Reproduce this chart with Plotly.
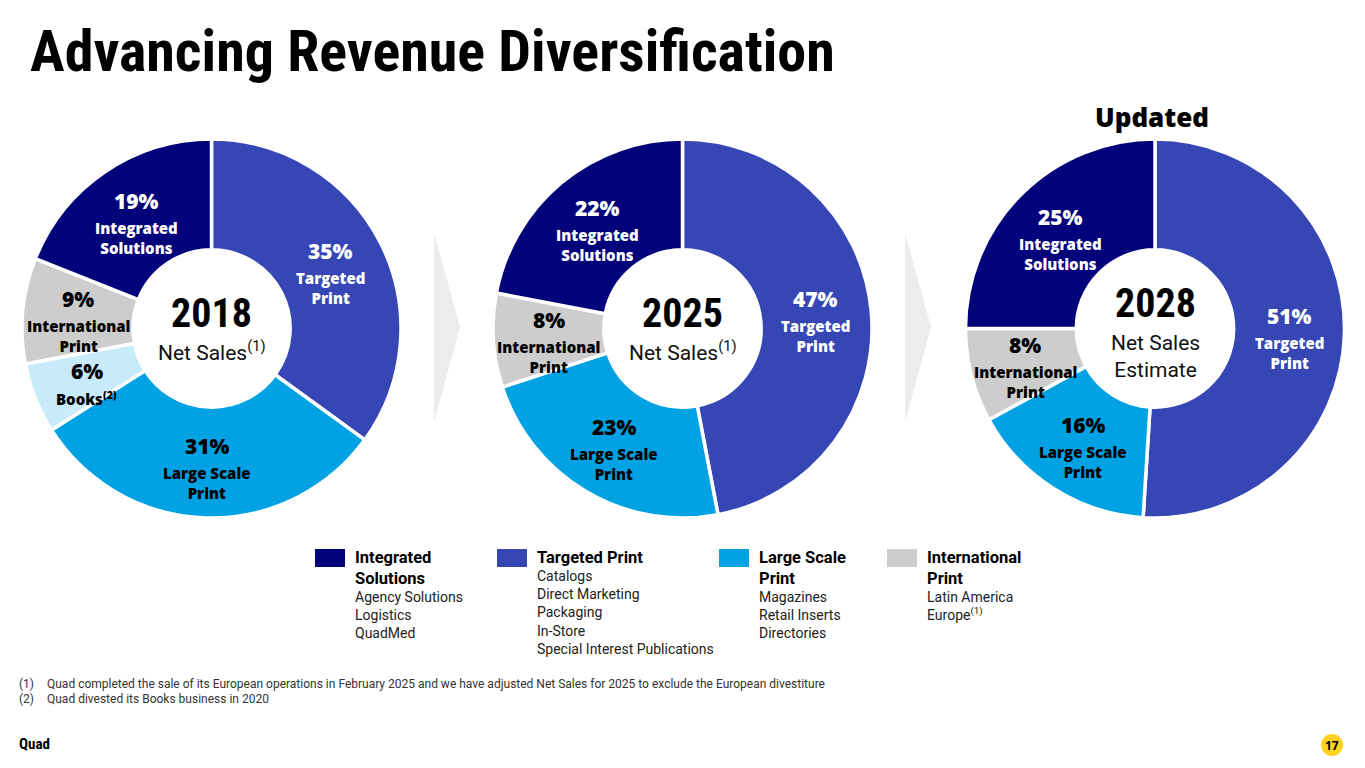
import math
import plotly.graph_objects as go

W, H = 1365, 768

# ---------------- data ----------------
years = ["2018", "2025", "2028"]
segments_2018 = ["Targeted Print", "Large Scale Print", "Books", "International Print", "Integrated Solutions"]
share_2018 = [35, 31, 6, 9, 19]
segments_2025 = ["Targeted Print", "Large Scale Print", "International Print", "Integrated Solutions"]
share_2025 = [47, 23, 8, 22]
segments_2028 = ["Targeted Print", "Large Scale Print", "International Print", "Integrated Solutions"]
share_2028 = [51, 16, 8, 25]
center_subtitles = ["Net Sales<sup>(1)</sup>", "Net Sales<sup>(1)</sup>", "Net Sales<br>Estimate"]

slice_labels = {
    "Targeted Print": "Targeted<br>Print",
    "Large Scale Print": "Large Scale<br>Print",
    "Books": "Books<sup>(2)</sup>",
    "International Print": "International<br>Print",
    "Integrated Solutions": "Integrated<br>Solutions",
}

legend_titles = ["Integrated<br>Solutions", "Targeted Print", "Large Scale<br>Print", "International<br>Print"]
legend_keys = ["Integrated Solutions", "Targeted Print", "Large Scale Print", "International Print"]
legend_items = [
    ["Agency Solutions", "Logistics", "QuadMed"],
    ["Catalogs", "Direct Marketing", "Packaging", "In-Store", "Special Interest Publications"],
    ["Magazines", "Retail Inserts", "Directories"],
    ["Latin America", "Europe<sup>(1)</sup>"],
]

footnotes = [
    ("(1)", "Quad completed the sale of its European operations in February 2025 and we have adjusted Net Sales for 2025 to exclude the European divestiture"),
    ("(2)", "Quad divested its Books business in 2020"),
]

# ---------------- styles ----------------
COLORS = {
    "Integrated Solutions": "#02027a",
    "Targeted Print": "#3646b4",
    "Large Scale Print": "#00a2e4",
    "International Print": "#cdcdcd",
    "Books": "#c8ebfb",
}
TEXT_COLORS = {
    "Integrated Solutions": "white",
    "Targeted Print": "white",
    "Large Scale Print": "black",
    "International Print": "black",
    "Books": "black",
}
COND = "Roboto Condensed, Open Sans Condensed, sans-serif"
BOLD = "Open Sans, Roboto, sans-serif"
BODY = "Roboto, Open Sans, sans-serif"

def px(x):
    return x / W

def py(y):
    return 1 - y / H

# donut geometry (pixels)
centers_x = [211.5, 682.5, 1155]
center_y = 328.5
R_OUT = 189.5
HOLE = 0.415

fig = go.Figure()
annotations = []
shapes = []

all_segments = [segments_2018, segments_2025, segments_2028]
all_shares = [share_2018, share_2025, share_2028]

for i, (segs, vals) in enumerate(zip(all_segments, all_shares)):
    cx = centers_x[i]
    fig.add_trace(go.Pie(
        labels=segs, values=vals, sort=False, direction="clockwise", rotation=0,
        hole=HOLE, textinfo="none", hoverinfo="label+percent",
        marker=dict(colors=[COLORS[s] for s in segs], line=dict(color="white", width=3.5)),
        domain=dict(x=[px(cx - R_OUT), px(cx + R_OUT)], y=[py(center_y + R_OUT), py(center_y - R_OUT)]),
        showlegend=False,
    ))
    # slice labels placed on each slice's bisector at mid-ring radius
    total = sum(vals)
    rmid = (R_OUT + R_OUT * HOLE) / 2
    cum = 0
    for s, v in zip(segs, vals):
        a = math.radians((cum + v / 2) / total * 360)
        cum += v
        lx = cx + rmid * math.sin(a)
        ly = center_y - rmid * math.cos(a)
        n_lines = slice_labels[s].count("<br>") + 1
        split = ly - 4 + (2 - n_lines) * 10
        tc = TEXT_COLORS[s]
        annotations.append(dict(
            x=px(lx), y=py(split + 2), xref="paper", yref="paper", xanchor="center", yanchor="bottom",
            text=f"{v}%", showarrow=False,
            font=dict(family=BOLD, size=21, color=tc, weight=800), borderpad=0,
        ))
        annotations.append(dict(
            x=px(lx), y=py(split + 3), xref="paper", yref="paper", xanchor="center", yanchor="top",
            text=slice_labels[s], showarrow=False,
            font=dict(family=BOLD, size=15, color=tc, weight=800), borderpad=0,
        ))
    # center text
    two_line = "<br>" in center_subtitles[i]
    yr_y = center_y - (25 if two_line else 15)
    annotations.append(dict(
        x=px(cx), y=py(yr_y), xref="paper", yref="paper", xanchor="center", yanchor="middle",
        text=f"<b>{years[i]}</b>", showarrow=False,
        font=dict(family=COND, size=40, color="black"),
    ))
    annotations.append(dict(
        x=px(cx), y=py(yr_y + (26 if two_line else 22)), xref="paper", yref="paper", xanchor="center", yanchor="top",
        text=center_subtitles[i], showarrow=False,
        font=dict(family=BODY, size=21, color="#111111"),
    ))

# chevron arrows between donuts
for ax in [434, 905]:
    shapes.append(dict(
        type="path", xref="paper", yref="paper",
        path=f"M {px(ax)},{py(233)} L {px(ax + 26)},{py(327)} L {px(ax)},{py(422)} Z",
        fillcolor="#ececec", line=dict(width=0), layer="below",
    ))

# title
annotations.append(dict(
    x=px(28), y=py(51), xref="paper", yref="paper", xanchor="left", yanchor="middle",
    text="<b>Advancing Revenue Diversification</b>", showarrow=False,
    font=dict(family=COND, size=58, color="black"),
))
annotations.append(dict(
    x=px(1152), y=py(117), xref="paper", yref="paper", xanchor="center", yanchor="middle",
    text="Updated", showarrow=False,
    font=dict(family=BOLD, size=26, color="black", weight=800),
))

# legend
legend_x = [315, 497, 719, 887]
for lx, title, key, items in zip(legend_x, legend_titles, legend_keys, legend_items):
    shapes.append(dict(type="rect", xref="paper", yref="paper",
                       x0=px(lx), x1=px(lx + 30), y0=py(567), y1=py(549),
                       fillcolor=COLORS[key], line=dict(width=0)))
    annotations.append(dict(
        x=px(lx + 38), y=py(546), xref="paper", yref="paper", xanchor="left", yanchor="top",
        text=f"<b>{title}</b>", showarrow=False, align="left",
        font=dict(family=BODY, size=16.5, color="black"),
    ))
    n_title = title.count("<br>") + 1
    top = 546 + 22 * n_title + (-3 if n_title == 2 else -2)
    annotations.append(dict(
        x=px(lx + 38), y=py(top), xref="paper", yref="paper", xanchor="left", yanchor="top",
        text="<br>".join(items), showarrow=False, align="left",
        font=dict(family=BODY, size=14, color="#222222"),
    ))

# footnotes
for k, (num, txt) in enumerate(footnotes):
    yy = 684 + 15 * k
    annotations.append(dict(x=px(17), y=py(yy), xref="paper", yref="paper", xanchor="left", yanchor="middle",
                            text=num, showarrow=False, font=dict(family=BODY, size=12, color="#333333")))
    annotations.append(dict(x=px(45), y=py(yy), xref="paper", yref="paper", xanchor="left", yanchor="middle",
                            text=txt, showarrow=False, font=dict(family=BODY, size=12, color="#333333")))

# footer
annotations.append(dict(x=px(17), y=py(744), xref="paper", yref="paper", xanchor="left", yanchor="middle",
                        text="<b>Quad</b>", showarrow=False, font=dict(family=COND, size=15, color="black")))
shapes.append(dict(type="circle", xref="paper", yref="paper",
                   x0=px(1321), x1=px(1343), y0=py(756), y1=py(734),
                   fillcolor="#ffd21f", line=dict(width=0)))
annotations.append(dict(x=px(1332), y=py(745), xref="paper", yref="paper", xanchor="center", yanchor="middle",
                        text="<b>17</b>", showarrow=False, font=dict(family=BOLD, size=12, color="black")))

fig.update_layout(
    width=W, height=H, margin=dict(l=0, r=0, t=0, b=0),
    paper_bgcolor="white", plot_bgcolor="white",
    annotations=annotations, shapes=shapes, showlegend=False,
)
fig.write_html("out.html", config={"displayModeBar": False},
               post_script="document.body.style.margin='0px';")
